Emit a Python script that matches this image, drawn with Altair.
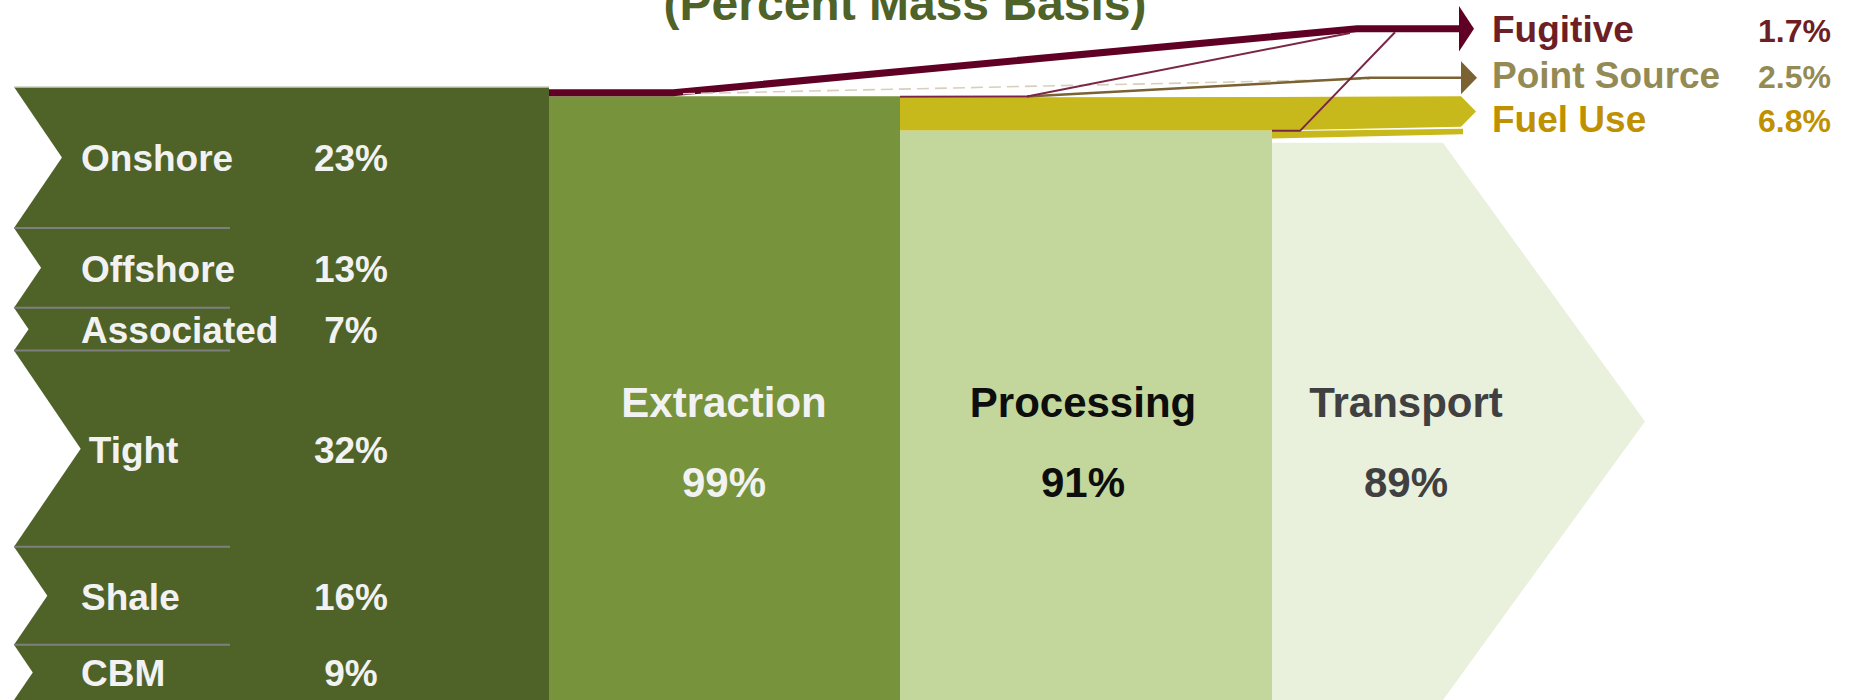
import altair as alt
import pandas as pd

# ---------------- data ----------------
SOURCE_NAMES = ["Onshore", "Offshore", "Associated", "Tight", "Shale", "CBM"]
SOURCE_PCT = [23, 13, 7, 32, 16, 9]

STAGE_NAMES = ["Extraction", "Processing", "Transport"]
STAGE_PCT = [99, 91, 89]            # printed shares
STAGE_TOP = [98.5, 92.9, 90.9]      # drawn top of each stage block (% of input)

EMIT_NAMES = ["Fugitive", "Point Source", "Fuel Use"]
EMIT_PCT = [1.7, 2.5, 6.8]

FUGITIVE_BAND = 1.15                # extraction fugitive stream width (%)
FUEL_PROC_BAND = [5.4, 5.0]         # processing fuel stream: width at start / at arrow
FUEL_TRANS_BAND = [1.2, 0.9]        # transport fuel stream: width at start / at end

# ---------------- layout ----------------
W, H = 1851, 700
PX_PER_PCT = 6.13
Y_MAX = H / PX_PER_PCT
FONT = "Liberation Sans"

X_LEFT, X_SRC_R, X_PROC_L, X_TRAN_L, X_SHOULDER, X_TIP = 14, 549, 900, 1272, 1443, 1645
X_SPLIT, X_ARROW, ARROW_LEN = 1027, 1460, 15
FUG_BEND1, FUG_BEND2 = 673, 1357
EMIT_LEVEL = [109.5, 101.5, 96.0]   # arrow centre levels (% units)
NOTCH_RATIO = 0.34
SEP_X2 = 230
LABEL_X, PCT_X = 81, 351
STAGE_CX = [724, 1083, 1406]
EMIT_NAME_X, EMIT_PCT_X = 1492, 1831
EMIT_BASE_PX = [41.7, 88.3, 131.7]

C_SRC, C_EXT, C_PROC, C_TRAN = "#4F6228", "#77933C", "#C3D69B", "#E9F1DD"
C_FUEL, C_FUG, C_FUG_THIN, C_POINT, C_DASH, C_SEP = "#C7B81B", "#600024", "#7B2547", "#7A6232", "#D6CFBB", "#7F7F7F"
STAGE_TEXT_COLORS = ["#F2F2F2", "#0D0D0D", "#404040"]
EMIT_TEXT_COLORS = ["#6D1F25", "#948A54", "#BF9000"]

xs = alt.Scale(domain=[0, W], nice=False, zero=False)
ys = alt.Scale(domain=[0, Y_MAX], nice=False, zero=False)


def X(f):
    return alt.X(f, type="quantitative", scale=xs, axis=None)


def Y(f):
    return alt.Y(f, type="quantitative", scale=ys, axis=None)


def area(df, color, group=None):
    enc = dict(x=X("x"), y=alt.Y("y", type="quantitative", scale=ys, axis=None, stack=None), y2=alt.Y2("y2"))
    if group:
        enc["detail"] = alt.Detail(group + ":N")
    return alt.Chart(df).mark_area(color=color, orient="vertical").encode(**enc)


def poly(xs_, ys_, y2s_):
    return pd.DataFrame({"x": xs_, "y": ys_, "y2": y2s_})


def line(xs_, ys_, color, width, dash=None):
    df = pd.DataFrame({"x": xs_, "y": ys_, "i": list(range(len(xs_)))})
    kw = dict(color=color, strokeWidth=width)
    if dash:
        kw["strokeDash"] = dash
    return alt.Chart(df).mark_line(**kw).encode(x=X("x"), y=Y("y"), order=alt.Order("i:Q"))


def rect(x, x2, y, y2, color):
    return (alt.Chart(pd.DataFrame({"x": [x], "x2": [x2], "y": [y], "y2": [y2]}))
            .mark_rect(color=color).encode(x=X("x"), x2=alt.X2("x2"), y=Y("y"), y2=alt.Y2("y2")))


layers = []

# ---- source block ----
total = sum(SOURCE_PCT)
layers.append(rect(X_LEFT, X_SRC_R, total, 0, C_SRC))

rows, notch, seps = [], [], []
top = total
for name, p in zip(SOURCE_NAMES, SOURCE_PCT):
    bot = top - p
    mid = (top + bot) / 2
    depth = NOTCH_RATIO * p * PX_PER_PCT
    notch += [{"g": name, "x": X_LEFT, "y": top, "y2": bot},
              {"g": name, "x": X_LEFT + depth, "y": mid, "y2": mid}]
    rows.append({"name": name, "pct": f"{p}%", "mid": mid,
                 "lx": max(LABEL_X, X_LEFT + depth + 8), "px": PCT_X})
    if bot > 0:
        seps.append({"x": X_LEFT, "x2": SEP_X2, "y": bot})
    top = bot
df_src = pd.DataFrame(rows)
layers.append(area(pd.DataFrame(notch), "white", group="g"))
layers.append(alt.Chart(pd.DataFrame(seps)).mark_rule(color=C_SEP, strokeWidth=2)
              .encode(x=X("x"), x2=alt.X2("x2"), y=Y("y")))
layers.append(alt.Chart(pd.DataFrame({"x": [X_LEFT], "x2": [X_SRC_R], "y": [total]}))
              .mark_rule(color="#C9CEBF", strokeWidth=1.5).encode(x=X("x"), x2=alt.X2("x2"), y=Y("y")))

# ---- stage blocks ----
layers.append(rect(X_SRC_R, X_PROC_L, STAGE_TOP[0], 0, C_EXT))
layers.append(rect(X_PROC_L, X_TRAN_L, STAGE_TOP[1], 0, C_PROC))
layers.append(area(poly([X_TRAN_L, X_SHOULDER, X_TIP],
                        [STAGE_TOP[2], STAGE_TOP[2], STAGE_TOP[2] / 2],
                        [0, 0, STAGE_TOP[2] / 2]), C_TRAN))

# ---- fuel use streams ----
t_top0 = STAGE_TOP[1] - 0.1
fuel_bot_end = EMIT_LEVEL[2] - FUEL_PROC_BAND[1] / 2
t_top1 = fuel_bot_end - 0.3
layers.append(area(poly([X_TRAN_L, X_ARROW + 3],
                        [t_top0, t_top1],
                        [t_top0 - FUEL_TRANS_BAND[0], t_top1 - FUEL_TRANS_BAND[1]]), C_FUEL))
layers.append(area(poly([X_PROC_L, X_TRAN_L, X_ARROW + 1, X_ARROW + 1 + ARROW_LEN],
                        [STAGE_TOP[1] + FUEL_PROC_BAND[0], STAGE_TOP[1] + FUEL_PROC_BAND[0] + 0.05,
                         EMIT_LEVEL[2] + FUEL_PROC_BAND[1] / 2, EMIT_LEVEL[2]],
                        [STAGE_TOP[1], STAGE_TOP[1], fuel_bot_end, EMIT_LEVEL[2]]), C_FUEL))

# ---- fugitive stream (extraction) ----
f_half = FUGITIVE_BAND / 2
layers.append(area(poly([X_SRC_R, FUG_BEND1, FUG_BEND2, X_ARROW],
                        [STAGE_TOP[0] + FUGITIVE_BAND, STAGE_TOP[0] + FUGITIVE_BAND,
                         EMIT_LEVEL[0] + f_half, EMIT_LEVEL[0] + f_half],
                        [STAGE_TOP[0], STAGE_TOP[0], EMIT_LEVEL[0] - f_half, EMIT_LEVEL[0] - f_half]), C_FUG))
layers.append(area(poly([X_ARROW - 1, X_ARROW - 1 + ARROW_LEN],
                        [EMIT_LEVEL[0] + 3.7, EMIT_LEVEL[0]],
                        [EMIT_LEVEL[0] - 3.7, EMIT_LEVEL[0]]), C_FUG))


def fug_bottom(x):
    fr = (x - FUG_BEND1) / (FUG_BEND2 - FUG_BEND1)
    return STAGE_TOP[0] + fr * (EMIT_LEVEL[0] - f_half - STAGE_TOP[0])


# ---- thin streams ----
layers.append(line([683, 1370], [STAGE_TOP[0] + 0.4, EMIT_LEVEL[1] - 0.2], C_DASH, 1.6, [12, 6]))
layers.append(line([X_SPLIT, 1370, X_ARROW + 1], [STAGE_TOP[0] - 0.05, EMIT_LEVEL[1], EMIT_LEVEL[1]], C_POINT, 2.5))
layers.append(area(poly([X_ARROW + 1, X_ARROW + 1 + ARROW_LEN + 1],
                        [EMIT_LEVEL[1] + 2.7, EMIT_LEVEL[1]],
                        [EMIT_LEVEL[1] - 2.7, EMIT_LEVEL[1]]), C_POINT))
layers.append(line([X_PROC_L, X_SPLIT, 1350], [STAGE_TOP[0] - 0.1, STAGE_TOP[0] - 0.05, fug_bottom(1350)], C_FUG_THIN, 2))
layers.append(line([X_TRAN_L, 1300, 1395], [STAGE_TOP[1] - 0.05, STAGE_TOP[1] - 0.05, EMIT_LEVEL[0] - f_half], C_FUG_THIN, 2))

# ---- text ----
txt = dict(font=FONT, fontWeight="bold")
layers.append(alt.Chart(df_src).mark_text(fontSize=37, color="#F2F2F2", align="left", baseline="alphabetic", dy=14, **txt)
              .encode(x=X("lx"), y=Y("mid"), text="name:N"))
layers.append(alt.Chart(df_src).mark_text(fontSize=37, color="#F2F2F2", align="center", baseline="alphabetic", dy=14, **txt)
              .encode(x=X("px"), y=Y("mid"), text="pct:N"))

for name, pct, cx, col in zip(STAGE_NAMES, STAGE_PCT, STAGE_CX, STAGE_TEXT_COLORS):
    d = pd.DataFrame({"name": [name], "pct": [f"{pct}%"], "cx": [cx]})
    layers.append(alt.Chart(d).mark_text(fontSize=42, align="center", baseline="alphabetic", color=col, **txt)
                  .encode(x=X("cx"), y=alt.value(417), text="name:N"))
    layers.append(alt.Chart(d).mark_text(fontSize=42, align="center", baseline="alphabetic", color=col, **txt)
                  .encode(x=X("cx"), y=alt.value(497), text="pct:N"))

for name, pct, bpx, col in zip(EMIT_NAMES, EMIT_PCT, EMIT_BASE_PX, EMIT_TEXT_COLORS):
    d = pd.DataFrame({"name": [name], "pct": [f"{pct}%"], "nx": [EMIT_NAME_X], "px": [EMIT_PCT_X]})
    layers.append(alt.Chart(d).mark_text(fontSize=37, align="left", baseline="alphabetic", color=col, **txt)
                  .encode(x=X("nx"), y=alt.value(bpx), text="name:N"))
    layers.append(alt.Chart(d).mark_text(fontSize=32, align="right", baseline="alphabetic", color=col, **txt)
                  .encode(x=X("px"), y=alt.value(bpx), text="pct:N"))

layers.append(alt.Chart(pd.DataFrame({"t": ["(Percent Mass Basis)"]}))
              .mark_text(fontSize=48, color="#4F6228", align="center", baseline="alphabetic", **txt)
              .encode(x=alt.value(905), y=alt.value(20), text="t:N"))

chart = (alt.layer(*layers)
         .properties(width=W, height=H, padding=0, autosize=alt.AutoSizeParams(type="none"), background="white")
         .configure_view(stroke=None))

chart.save("out.html", embed_options={"renderer": "svg", "actions": False})
